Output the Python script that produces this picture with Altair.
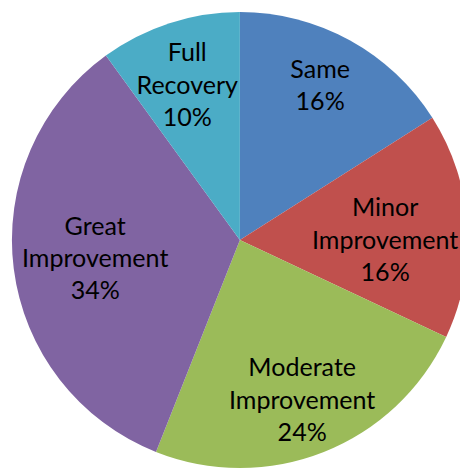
import altair as alt
import pandas as pd

categories = ["Same", "Minor Improvement", "Moderate Improvement", "Great Improvement", "Full Recovery"]
percents = [16, 16, 24, 34, 10]
colors = ["#4F81BD", "#C0504D", "#9BBB59", "#8064A2", "#4BACC6"]

df = pd.DataFrame({"category": categories, "pct": percents, "idx": list(range(len(categories)))})

CX, CY, R = 236, 232, 232
LH = 33

arcs = alt.Chart(df).mark_arc(outerRadius=R).encode(
    theta=alt.Theta("pct:Q", stack=True),
    order=alt.Order("idx:Q", sort="ascending"),
    x=alt.value(CX),
    y=alt.value(CY),
    color=alt.Color("category:N", scale=alt.Scale(domain=categories, range=colors), legend=None),
)

labels = alt.Chart(df).transform_joinaggregate(
    total="sum(pct)"
).transform_window(
    cum="sum(pct)", sort=[alt.SortField("idx", order="ascending")], frame=[None, 0]
).transform_calculate(
    mid="(datum.cum - datum.pct / 2) / datum.total * 2 * PI",
    nlines="length(split(datum.category, ' ')) + 1",
    rx="176 - 28 * pow(sin(datum.mid), 2)",
    ry="228 - 20 * datum.nlines",
    px=f"{CX} + datum.rx * sin(datum.mid)",
    py=f"{CY} - datum.ry * cos(datum.mid) + 5 + 6.6 * sin(datum.mid) - (datum.nlines - 1) * {LH} / 2",
    label="replace(datum.category, ' ', '\\n') + '\\n' + datum.pct + '%'",
).mark_text(
    fontSize=25.5, font="Lato", lineBreak="\n", lineHeight=LH, color="black",
    align="center", baseline="middle"
).encode(
    x=alt.X("px:Q", scale=None),
    y=alt.Y("py:Q", scale=None),
    text="label:N",
)

chart = alt.layer(arcs, labels).properties(
    width=460, height=464, autosize="none", padding=0, background="white"
).configure_view(strokeWidth=0)

chart.save("out.html", embed_options={"renderer": "svg", "actions": False})
